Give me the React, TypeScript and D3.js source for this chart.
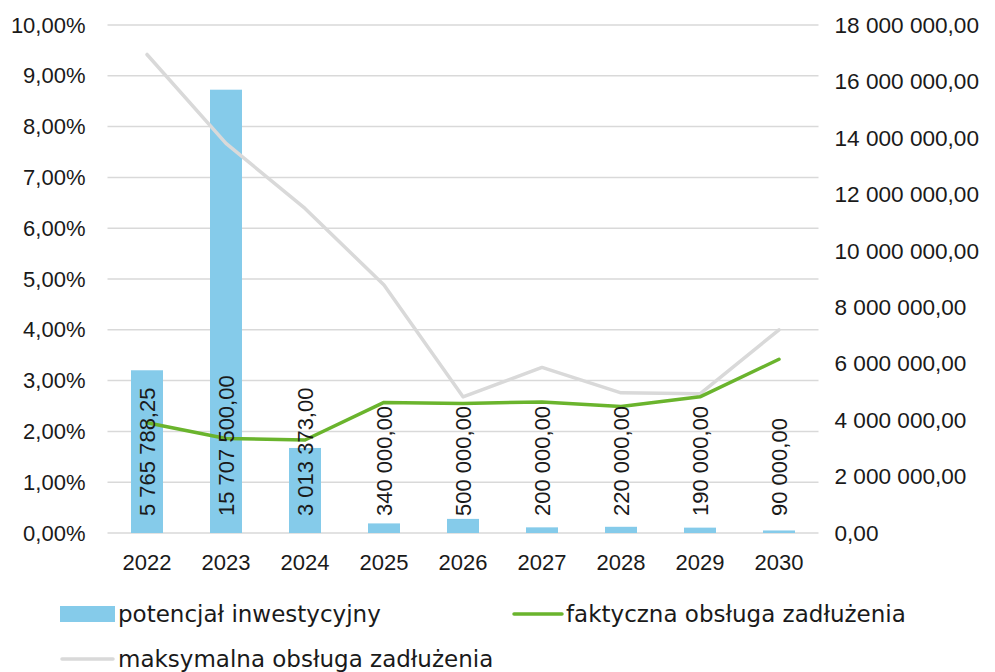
import React, { useEffect, useRef } from 'react';
import * as d3 from 'd3';

const years = ['2022', '2023', '2024', '2025', '2026', '2027', '2028', '2029', '2030'];
// potencjał inwestycyjny (right axis)
const potencjal = [5765788.25, 15707500, 3013373, 340000, 500000, 200000, 220000, 190000, 90000];
// faktyczna obsługa zadłużenia (left axis, %)
const faktyczna = [2.17, 1.86, 1.83, 2.57, 2.55, 2.58, 2.49, 2.68, 3.42];
// maksymalna obsługa zadłużenia (left axis, %)
const maksymalna = [9.42, 7.67, 6.39, 4.88, 2.68, 3.26, 2.76, 2.74, 4.0];

const leftTicks = [0, 1, 2, 3, 4, 5, 6, 7, 8, 9, 10];
const rightTicks = [0, 2e6, 4e6, 6e6, 8e6, 10e6, 12e6, 14e6, 16e6, 18e6];

const FONT = '"Liberation Sans", Arial, sans-serif';
const LEGEND_FONT = '"DejaVu Sans", sans-serif';
const TXT = '#1a1a1a';

export default function App() {
  const ref = useRef<SVGSVGElement>(null);

  useEffect(() => {
    const svg = d3.select(ref.current);
    svg.selectAll('*').remove();

    const left = 107.5, right = 818.5, top = 25, bottom = 533;

    const x = d3.scaleBand().domain(years).range([left, right]);
    const yL = d3.scaleLinear().domain([0, 10]).range([bottom, top]);
    const yR = d3.scaleLinear().domain([0, 18e6]).range([bottom, top]);

    const fmtNum = (v: number) => {
      const s = v.toFixed(2).split('.');
      return s[0].replace(/\B(?=(\d{3})+(?!\d))/g, ' ') + ',' + s[1];
    };

    // gridlines
    svg.append('g')
      .selectAll('line')
      .data(leftTicks)
      .join('line')
      .attr('x1', left)
      .attr('x2', right)
      .attr('y1', d => yL(d))
      .attr('y2', d => yL(d))
      .attr('stroke', '#d9d9d9')
      .attr('stroke-width', 1.5);

    // left axis
    const gl = svg.append('g')
      .attr('transform', `translate(${left - 22},0)`)
      .call(d3.axisLeft(yL).tickValues(leftTicks).tickSize(0).tickPadding(0)
        .tickFormat(d => (d as number).toFixed(2).replace('.', ',') + '%'));
    gl.select('.domain').remove();
    gl.selectAll('text').attr('font-size', 22).attr('font-family', FONT).attr('fill', TXT);

    // right axis
    const gr = svg.append('g')
      .attr('transform', `translate(${right + 16},0)`)
      .call(d3.axisRight(yR).tickValues(rightTicks).tickSize(0).tickPadding(0)
        .tickFormat(d => fmtNum(d as number)));
    gr.select('.domain').remove();
    gr.selectAll('text').attr('font-size', 22.6).attr('font-family', FONT).attr('fill', TXT);

    // x axis
    const gx = svg.append('g')
      .attr('transform', `translate(0,${bottom + 18})`)
      .call(d3.axisBottom(x).tickSize(0).tickPadding(0));
    gx.select('.domain').remove();
    gx.selectAll('text').attr('font-size', 22).attr('font-family', FONT).attr('fill', TXT)
      .attr('dy', '0.85em');

    // bars
    const bw = 32;
    svg.append('g')
      .selectAll('rect')
      .data(potencjal)
      .join('rect')
      .attr('x', (d, i) => x(years[i])! + x.bandwidth() / 2 - bw / 2)
      .attr('y', d => yR(d))
      .attr('width', bw)
      .attr('height', d => bottom - yR(d))
      .attr('fill', '#85cbea');

    // lines
    const line = d3.line<number>()
      .x((d, i) => x(years[i])! + x.bandwidth() / 2)
      .y(d => yL(d));

    svg.append('path')
      .datum(maksymalna)
      .attr('fill', 'none')
      .attr('stroke', '#d9d9d9')
      .attr('stroke-width', 3.5)
      .attr('stroke-linejoin', 'round')
      .attr('stroke-linecap', 'round')
      .attr('d', line);

    svg.append('path')
      .datum(faktyczna)
      .attr('fill', 'none')
      .attr('stroke', '#6ab42d')
      .attr('stroke-width', 3.5)
      .attr('stroke-linejoin', 'round')
      .attr('stroke-linecap', 'round')
      .attr('d', line);

    // data labels (rotated, inside base)
    svg.append('g')
      .selectAll('text')
      .data(potencjal)
      .join('text')
      .attr('transform', (d, i) => `translate(${x(years[i])! + x.bandwidth() / 2},${bottom - 17}) rotate(-90)`)
      .attr('dy', '0.36em')
      .attr('font-size', 22)
      .attr('font-family', FONT)
      .attr('fill', TXT)
      .text(d => fmtNum(d));

    // legend
    const lg = svg.append('g').attr('font-family', LEGEND_FONT).attr('font-size', 23).attr('fill', TXT);
    lg.append('rect').attr('x', 60).attr('y', 606).attr('width', 55).attr('height', 16).attr('fill', '#85cbea');
    lg.append('text').attr('x', 118).attr('y', 614).attr('dy', '0.35em').text('potencjał inwestycyjny');
    lg.append('line').attr('x1', 514).attr('x2', 562).attr('y1', 614).attr('y2', 614)
      .attr('stroke', '#6ab42d').attr('stroke-width', 3.5).attr('stroke-linecap', 'round');
    lg.append('text').attr('x', 566).attr('y', 614).attr('dy', '0.35em').text('faktyczna obsługa zadłużenia');
    lg.append('line').attr('x1', 62).attr('x2', 113).attr('y1', 659).attr('y2', 659)
      .attr('stroke', '#d9d9d9').attr('stroke-width', 3.5).attr('stroke-linecap', 'round');
    lg.append('text').attr('x', 118).attr('y', 659).attr('dy', '0.35em').text('maksymalna obsługa zadłużenia');
  }, []);

  return (
    <svg ref={ref} width={995} height={672}
      style={{ position: 'absolute', left: 0, top: 0, background: '#fff' }} />
  );
}
